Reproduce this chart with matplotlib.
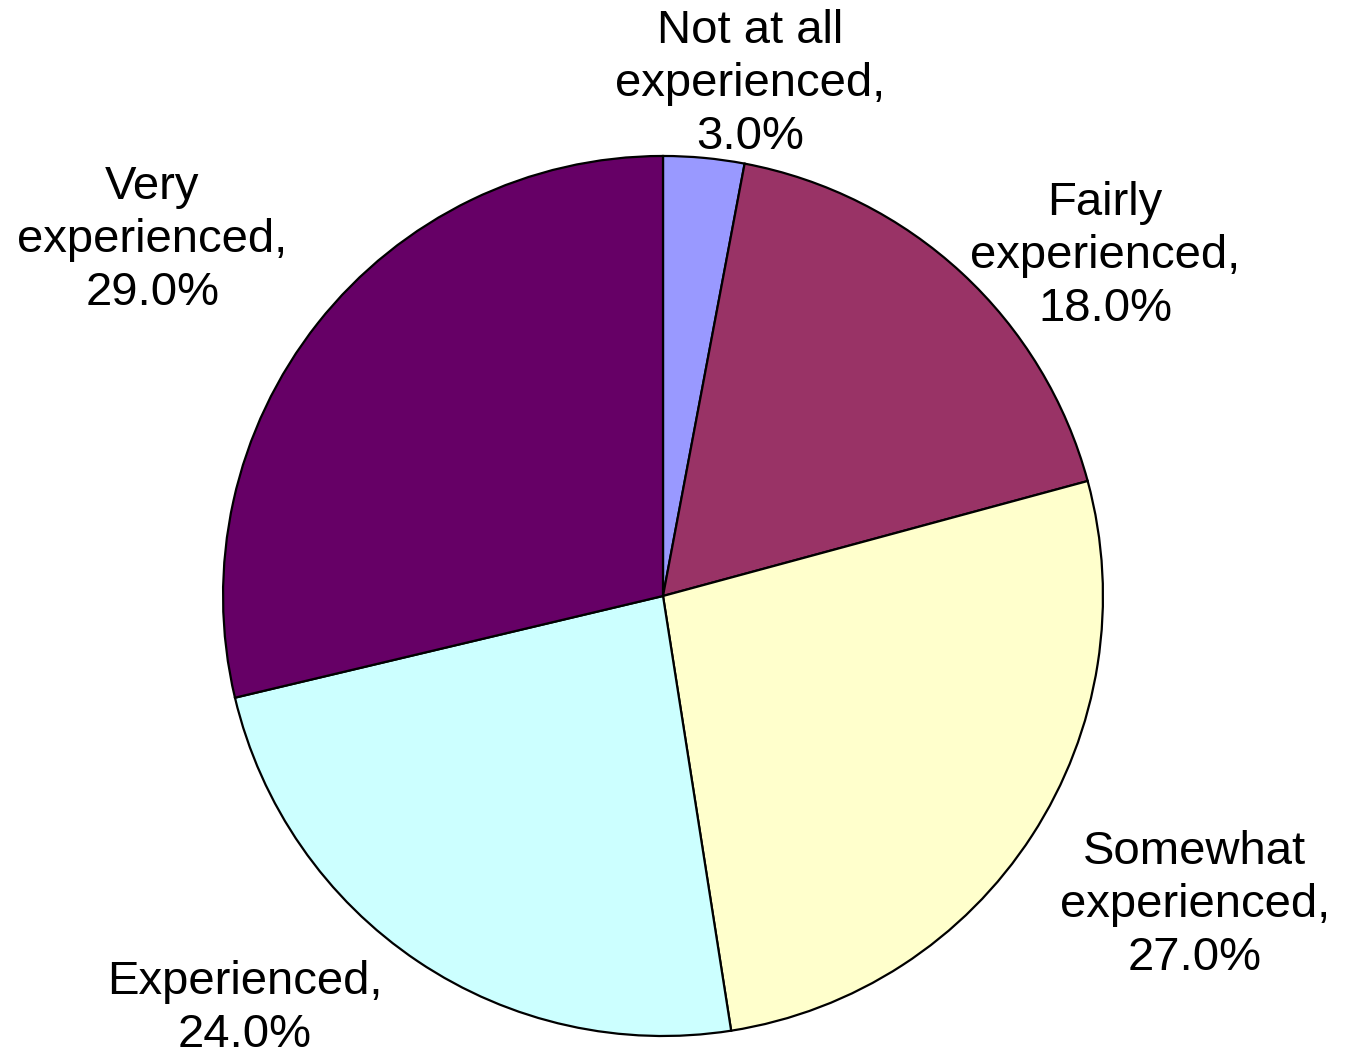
import matplotlib
matplotlib.use("Agg")
import matplotlib.pyplot as plt
from matplotlib import font_manager

categories = ["Not at all\nexperienced", "Fairly\nexperienced", "Somewhat\nexperienced", "Experienced", "Very\nexperienced"]
values = [3.0, 18.0, 27.0, 24.0, 29.0]
colors = ["#9999FF", "#993366", "#FFFFCC", "#CCFFFF", "#660066"]
label_pos = [(0.198, 1.163), (1.005, 0.772), (1.209, -0.703), (-0.95, -0.938), (-1.161, 0.809)]

names = {f.name for f in font_manager.fontManager.ttflist}
fam = "Liberation Sans Narrow" if "Liberation Sans Narrow" in names else "Liberation Sans"

fig = plt.figure(figsize=(13.48, 10.58), dpi=100)
ax = fig.add_axes([0, 0, 1, 1])
ax.pie(values, colors=colors, startangle=90, counterclock=False,
       radius=1.0, center=(0, 0), frame=True,
       wedgeprops=dict(edgecolor="black", linewidth=1.6))
ax.set_xlim(-1.507, 1.557)
ax.set_ylim(-1.05, 1.3545)
ax.set_aspect("auto")
ax.axis("off")
for cat, v, (x, y) in zip(categories, values, label_pos):
    ax.text(x, y, f"{cat},\n{v:.1f}%", ha="center", va="center", fontsize=34,
            family=fam, linespacing=1.27)
fig.savefig("out.png", dpi=100)
